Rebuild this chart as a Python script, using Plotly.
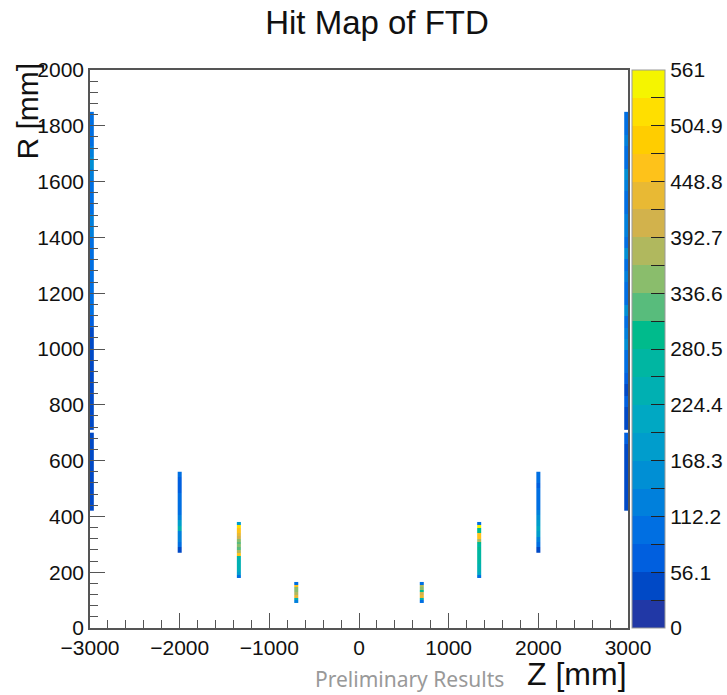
import numpy as np
import plotly.graph_objects as go

# ---------------- data ----------------
# inner FTD disks: z position [mm], radial extent [mm], hit counts per radial bin (bottom -> top)
disk_z = [-2000, -1340, -700, 700, 1340, 2000]
disk_rmin = [270, 180, 90, 90, 180, 270]
disk_rmax = [560, 380, 165, 165, 380, 560]
hits_m2000 = [45, 110, 120, 140, 230, 170, 130, 110, 100, 90, 85, 70, 60, 75, 90]
hits_m1340 = [100, 190, 220, 230, 240, 240, 250, 260, 470, 370, 330, 340, 320, 360, 410, 430, 450, 470, 530, 190]
hits_m700 = [120, 240, 430, 380, 340, 360, 460, 100]
hits_p700 = [110, 250, 440, 410, 300, 350, 370, 100]
hits_p1340 = [100, 210, 240, 240, 250, 270, 255, 260, 260, 270, 290, 280, 300, 380, 470, 460, 290, 290, 540, 100]
hits_p2000 = [40, 110, 140, 180, 200, 170, 150, 120, 110, 100, 95, 90, 80, 90, 100]
disk_hits = [hits_m2000, hits_m1340, hits_m700, hits_p700, hits_p1340, hits_p2000]

# outer disks (two radial sections separated by a small gap)
outer_z = [-2980, 2980]
outer_inner_r = [420, 700]
outer_outer_r = [710, 1850]
hits_m2980_inner = [35, 40, 30, 45, 35, 40, 30]
hits_m2980_outer = [40, 45, 35, 50, 40, 45, 55, 40, 50,
                    75, 90, 85, 100, 95, 110, 90, 105, 130, 140, 100, 95, 110, 120, 145, 130, 100, 110, 95]
hits_p2980_inner = [45, 50, 40, 55, 45, 50, 60]
hits_p2980_outer = [55, 50, 60, 45, 65,
                    90, 110, 150, 120, 100, 160, 105, 95, 130, 110, 150, 100, 115, 140, 105, 95, 120, 160, 110, 100, 125, 105, 95]
outer_hits = [(hits_m2980_inner, hits_m2980_outer), (hits_p2980_inner, hits_p2980_outer)]

half_width = 22  # disk thickness drawn [mm]

z_max = 561
cb_tick_labels = ["0", "56.1", "112.2", "168.3", "224.4", "280.5", "336.6", "392.7", "448.8", "504.9", "561"]

# ROOT-like palette, 20 contour levels (bottom -> top)
palette = ["#2138a6", "#0049c6", "#005fdf", "#006fe2", "#0080dc", "#008fd4", "#009dcc", "#00a8c3",
           "#00b0b2", "#00b6a2", "#00bb8c", "#58bc7c", "#8abd6c", "#b0b85e", "#d2b24c", "#e8b934",
           "#fec21a", "#ffcd00", "#ffdf00", "#f5f500"]

# ---------------- figure ----------------
colorscale = []
n = len(palette)
for i, c in enumerate(palette):
    colorscale.append([i / n, c])
    colorscale.append([(i + 1) / n, c])

fig = go.Figure()


def add_section(z, r0, r1, vals):
    edges = np.linspace(r0, r1, len(vals) + 1)
    fig.add_trace(go.Heatmap(
        x=[z - half_width, z + half_width],
        y=edges,
        z=[[v] for v in vals],
        coloraxis="coloraxis",
        hoverinfo="skip",
    ))


for z, r0, r1, vals in zip(disk_z, disk_rmin, disk_rmax, disk_hits):
    add_section(z, r0, r1, vals)
for z, (vin, vout) in zip(outer_z, outer_hits):
    add_section(z, outer_inner_r[0], outer_inner_r[1], vin)
    add_section(z, outer_outer_r[0], outer_outer_r[1], vout)

tick_font = dict(family="Liberation Sans, Arial, sans-serif", size=21, color="#111")
axis_common = dict(
    showline=True, mirror=True, linecolor="#555", linewidth=1.5,
    ticks="inside", ticklen=15, tickwidth=1.2, tickcolor="#555",
    showgrid=False, zeroline=False, tickfont=tick_font,
)

fig.update_layout(
    width=727, height=695,
    margin=dict(l=90, r=99, t=70, b=67, autoexpand=False),
    paper_bgcolor="white", plot_bgcolor="white",
    showlegend=False,
    title=dict(text="Hit Map of FTD", x=377 / 727, xref="container", xanchor="center",
               y=1 - 22 / 695, yref="container", yanchor="middle",
               font=dict(family="Liberation Sans, Arial, sans-serif", size=33, color="#111")),
    xaxis=dict(range=[-3000, 3000], tickvals=[-3000, -2000, -1000, 0, 1000, 2000, 3000],
               minor=dict(ticks="inside", ticklen=8, dtick=200, tickcolor="#555", tickwidth=1.2),
               **axis_common),
    yaxis=dict(range=[0, 2000], dtick=200,
               minor=dict(ticks="inside", ticklen=8, dtick=40, tickcolor="#555", tickwidth=1.2),
               **axis_common),
    coloraxis=dict(
        cmin=0, cmax=z_max, colorscale=colorscale,
        colorbar=dict(
            xref="paper", x=(632 - 90) / 538, xanchor="left", xpad=0, ypad=0,
            yref="paper", y=0.5, yanchor="middle", len=1, lenmode="fraction",
            thickness=33, thicknessmode="pixels",
            outlinewidth=1, outlinecolor="#999",
            tickmode="array",
            tickvals=[i * z_max / 20 for i in range(21)],
            ticktext=[cb_tick_labels[i // 2] if i % 2 == 0 else "" for i in range(21)],
            ticks="inside", ticklen=14, tickwidth=1.2, tickcolor="#222",
            tickfont=tick_font,
        ),
    ),
)

fig.add_annotation(text="R [mm]", textangle=-90, xref="paper", yref="paper",
                   x=(27 - 90) / 538, y=(628 - 62) / 558, xanchor="center", yanchor="top",
                   showarrow=False, borderpad=0,
                   font=dict(family="Liberation Sans, Arial, sans-serif", size=30, color="#111"))
fig.add_annotation(text="Z [mm]", xref="paper", yref="paper", x=1.0, y=-(693 - 628) / 558,
                   xanchor="right", yanchor="bottom", showarrow=False, borderpad=0,
                   font=dict(family="Liberation Sans, Arial, sans-serif", size=32, color="#111"))
fig.add_annotation(text="Preliminary Results", xref="paper", yref="paper", x=(505 - 90) / 538,
                   y=-(694 - 628) / 558, xanchor="right", yanchor="bottom", showarrow=False, borderpad=0,
                   font=dict(family="Noto Sans, Open Sans, sans-serif", size=21, color="#999"))

fig.write_html("out.html")
